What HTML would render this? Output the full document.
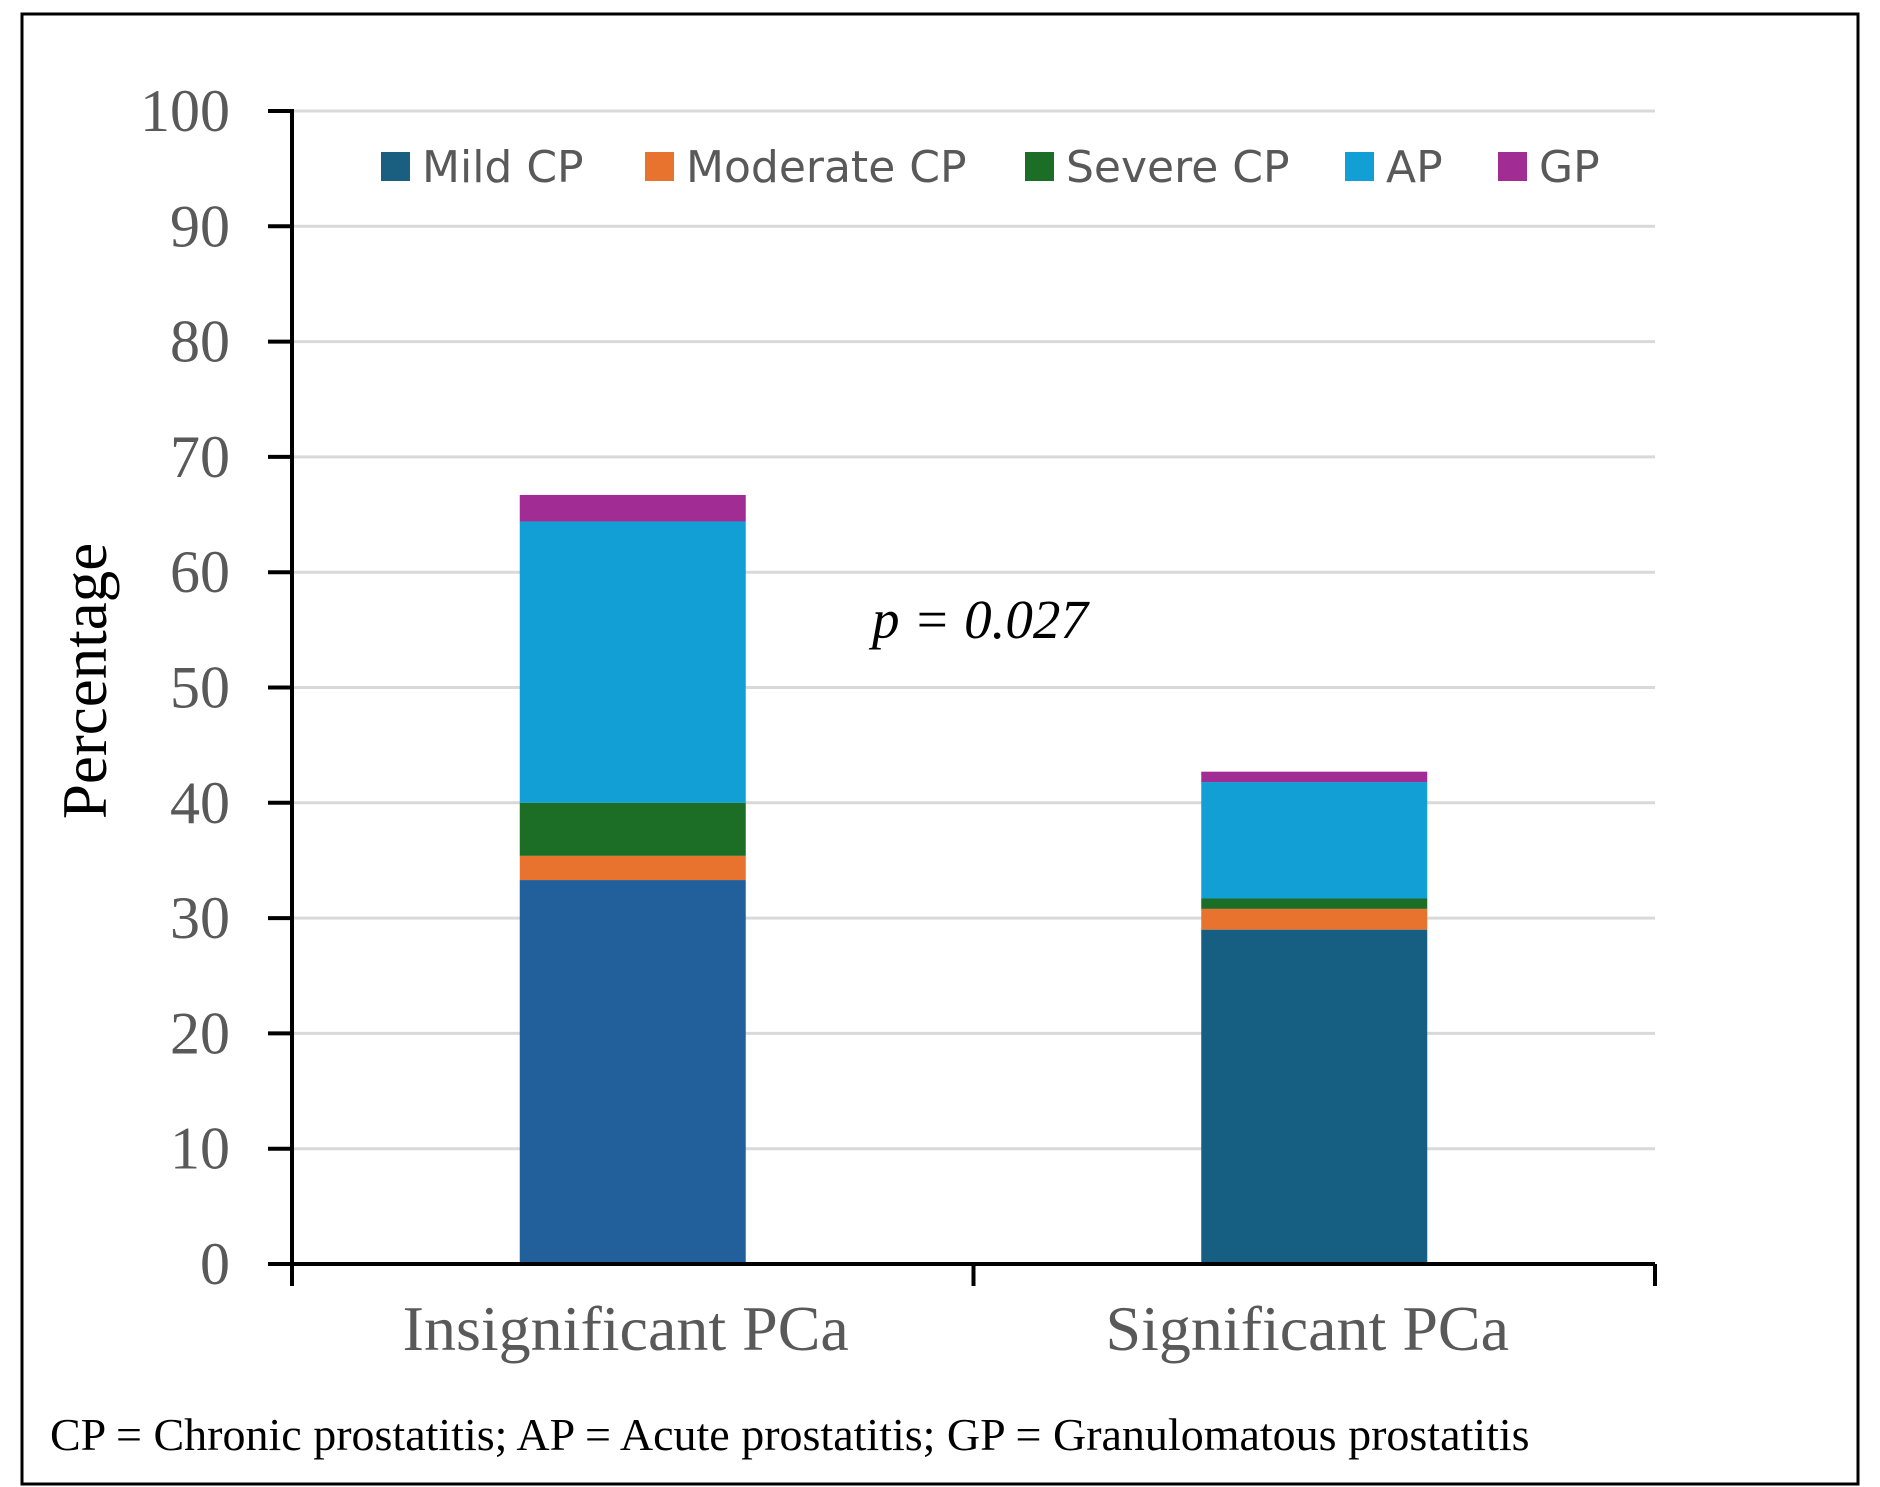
<!DOCTYPE html>
<html><head><meta charset="utf-8"><style>
html,body{margin:0;padding:0;background:#fff;}
svg{display:block;}
</style></head><body>
<svg id="chart" width="1880" height="1487" viewBox="0 0 1880 1487" xmlns="http://www.w3.org/2000/svg">
<rect x="22" y="14" width="1836" height="1470" fill="#fff" stroke="#000" stroke-width="3"/>
<g id="grid"></g>
<g id="bars"></g>
<g id="axes"></g>
<g id="legend"></g>
<text transform="translate(106,681) rotate(-90)" text-anchor="middle" font-family="Liberation Serif, serif" font-size="63" fill="#000">Percentage</text>
<text x="872" y="638" font-family="Liberation Serif, serif" font-style="italic" font-size="55" fill="#000">p = 0.027</text>
<text x="50" y="1450" font-family="Liberation Serif, serif" font-size="46" fill="#000">CP = Chronic prostatitis; AP = Acute prostatitis; GP = Granulomatous prostatitis</text>
</svg>
<script>
const categories = ["Insignificant PCa", "Significant PCa"];
const seriesNames = ["Mild CP", "Moderate CP", "Severe CP", "AP", "GP"];
const mildCP = [33.3, 29.0];
const moderateCP = [2.1, 1.8];
const severeCP = [4.6, 0.9];
const acuteP = [24.4, 10.1];
const granP = [2.3, 0.9];
const yTicks = [0,10,20,30,40,50,60,70,80,90,100];

const colors = ["#1a5f80","#e8732f","#1c6e27","#119fd6","#a12c93"];
const barColorsMild = ["#21609b","#175f82"];
const NS="http://www.w3.org/2000/svg";
const X0=292, X1=1655, Y0=1264, Y100=111;
const y = v => Y0 - (v/100)*(Y0-Y100);
const bandW = (X1-X0)/categories.length;
const xc = i => X0 + bandW*(i+0.5);
const barW = 226;
function mk(tag, attrs, parent){const e=document.createElementNS(NS,tag);for(const k in attrs)e.setAttribute(k,attrs[k]);parent.appendChild(e);return e;}
const grid=document.getElementById('grid'), bars=document.getElementById('bars'), axes=document.getElementById('axes'), legend=document.getElementById('legend');
yTicks.forEach(t=>{
  if(t>0){const g=mk('line',{x1:X0,x2:X1,y1:y(t),y2:y(t),stroke:'#d9d9d9','stroke-width':3},grid);
  
  }
  const tk=mk('line',{x1:X0-24,x2:X0,y1:y(t),y2:y(t),stroke:'#000','stroke-width':4},axes);
  
  
  const lb=mk('text',{x:X0-62,y:y(t)+20,'text-anchor':'end','font-family':'Liberation Serif, serif','font-size':60,fill:'#595959'},axes);
  lb.textContent=t;
  
  
});
const series=[mildCP,moderateCP,severeCP,acuteP,granP];
categories.forEach((c,i)=>{
  let base=0;
  series.forEach((s,j)=>{
    const top=base+s[i];
    const r=mk('rect',{x:xc(i)-barW/2,y:y(top),width:barW,height:y(base)-y(top),fill:j===0?barColorsMild[i]:colors[j]},bars);
    
    
    base=top;
  });
  const lb=mk('text',{x:xc(i)-7,y:1350,'text-anchor':'middle','font-family':'Liberation Serif, serif','font-size':64,fill:'#595959'},axes);
  lb.textContent=c;
  
  
});
const ya=mk('line',{x1:X0,x2:X0,y1:Y100-2,y2:Y0,stroke:'#000','stroke-width':4},axes);


const xa=mk('line',{x1:X0,x2:X1,y1:Y0,y2:Y0,stroke:'#000','stroke-width':4},axes);


for(let k=0;k<=categories.length;k++){
  const xt=X0+bandW*k;
  const t=mk('line',{x1:xt,x2:xt,y1:Y0,y2:Y0+22,stroke:'#000','stroke-width':4},axes);
  
  
}
const legX=[381,645,1025,1345,1498];
seriesNames.forEach((n,j)=>{
  const sq=mk('rect',{x:legX[j],y:152,width:29,height:29,fill:colors[j]},legend);
  
  
  const t=mk('text',{x:legX[j]+41,y:182,'font-family':'DejaVu Sans, Liberation Sans, sans-serif','font-size':44,fill:'#595959'},legend);
  t.textContent=n;
  
  
});
</script>
</body></html>
